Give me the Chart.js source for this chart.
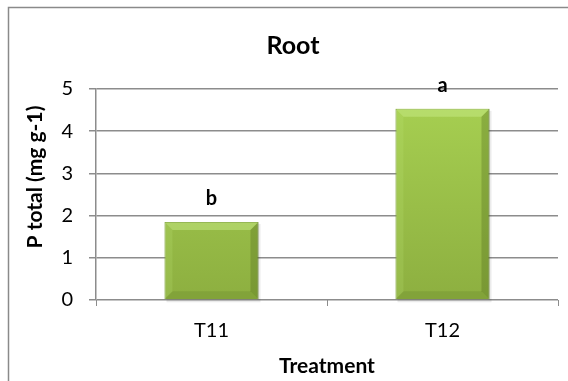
<!DOCTYPE html>
<html>
<head>
<meta charset="utf-8">
<script src="https://cdn.jsdelivr.net/npm/chart.js@4/dist/chart.umd.min.js"></script>
<style>
  html, body { margin: 0; padding: 0; background: #fff; }
  #wrap { width: 568px; height: 381px; position: relative; }
</style>
</head>
<body>
<div id="wrap"><canvas id="chart"></canvas></div>
<script>
var treatments = ['T11', 'T12'];
var pTotal = [1.85, 4.53];
var sigLetters = ['b', 'a'];
var yTicks = [0, 1, 2, 3, 4, 5];

var fontFamily = 'Lato, "Open Sans", sans-serif';
var gridColor = '#8c8c8c';

// frame round the whole chart, like the Excel chart area border
var framePlugin = {
    id: 'frame',
    beforeDraw: function(chart) {
        var ctx = chart.ctx;
        ctx.save();
        ctx.fillStyle = '#fff';
        ctx.fillRect(0, 0, chart.width, chart.height);
        ctx.strokeStyle = '#8a8a8a';
        ctx.lineWidth = 1.5;
        ctx.strokeRect(8.5, 7.5, chart.width + 20, chart.height + 20);
        ctx.restore();
    }
};

// bevel look on the bars and the letters above them
var bevelPlugin = {
    id: 'bevel',
    beforeDatasetsDraw: function(chart) {
        // soft shadow under the bars
        var ctx = chart.ctx;
        var meta = chart.getDatasetMeta(0);
        ctx.save();
        meta.data.forEach(function(bar) {
            var half = bar.width / 2;
            ctx.fillStyle = 'rgba(0,0,0,0.08)';
            ctx.fillRect(bar.x - half + 2, bar.y + 2, bar.width, bar.base - bar.y + 1);
        });
        ctx.restore();
    },
    afterDatasetsDraw: function(chart) {
        var ctx = chart.ctx;
        var meta = chart.getDatasetMeta(0);
        ctx.save();
        meta.data.forEach(function(bar, i) {
            var half = bar.width / 2;
            var l = bar.x - half, r = bar.x + half, t = bar.y, b = bar.base;
            var e = 8;
            ctx.fillStyle = 'rgba(205,240,140,0.45)';
            ctx.beginPath();
            ctx.moveTo(l, t); ctx.lineTo(r, t); ctx.lineTo(r - e, t + e); ctx.lineTo(l + e, t + e);
            ctx.closePath(); ctx.fill();
            ctx.fillStyle = 'rgba(190,230,120,0.2)';
            ctx.beginPath();
            ctx.moveTo(l, t); ctx.lineTo(l + e, t + e); ctx.lineTo(l + e, b - e); ctx.lineTo(l, b);
            ctx.closePath(); ctx.fill();
            ctx.fillStyle = 'rgba(70,95,20,0.28)';
            ctx.beginPath();
            ctx.moveTo(r, t); ctx.lineTo(r, b); ctx.lineTo(r - e, b - e); ctx.lineTo(r - e, t + e);
            ctx.closePath(); ctx.fill();
            ctx.fillStyle = 'rgba(70,95,20,0.15)';
            ctx.beginPath();
            ctx.moveTo(l, b); ctx.lineTo(r, b); ctx.lineTo(r - e, b - e); ctx.lineTo(l + e, b - e);
            ctx.closePath(); ctx.fill();

            ctx.fillStyle = '#000';
            ctx.font = 'bold 20px ' + fontFamily;
            ctx.textAlign = 'center';
            ctx.textBaseline = 'middle';
            ctx.fillText(sigLetters[i], bar.x, bar.y - 23);
        });
        ctx.restore();
    },
    afterDraw: function(chart) {
        // y axis title, Excel places it a bit above the middle
        var ctx = chart.ctx;
        ctx.save();
        ctx.translate(35, 177);
        ctx.rotate(-Math.PI / 2);
        ctx.fillStyle = '#000';
        ctx.font = 'bold 21px ' + fontFamily;
        ctx.textAlign = 'center';
        ctx.textBaseline = 'middle';
        ctx.fillText('P total (mg g-1)', 0, 0);
        ctx.restore();
    }
};

function barFill(context) {
    var chart = context.chart;
    var area = chart.chartArea;
    if (!area) return '#9bc34a';
    var el = context.element;
    var top = el && isFinite(el.y) ? el.y : area.top;
    var g = chart.ctx.createLinearGradient(0, top, 0, area.bottom);
    g.addColorStop(0, '#a8d152');
    g.addColorStop(1, '#8daf40');
    return g;
}

new Chart(document.getElementById('chart'), {
    type: 'bar',
    data: {
        labels: treatments,
        datasets: [{
            data: pTotal,
            backgroundColor: barFill,
            borderColor: '#6a8a28',
            borderWidth: 1,
            barPercentage: 0.407,
            categoryPercentage: 1
        }]
    },
    options: {
        responsive: true,
        maintainAspectRatio: false,
        animation: false,
        layout: { padding: { left: 28, right: 10, top: 8, bottom: 0 } },
        plugins: {
            legend: { display: false },
            tooltip: { enabled: false },
            title: {
                display: true,
                text: 'Root',
                color: '#000',
                font: { family: fontFamily, size: 25, weight: 'bold', lineHeight: 1.2 },
                padding: { top: 23, bottom: 28 }
            }
        },
        scales: {
            x: {
                grid: {
                    offset: true,
                    drawOnChartArea: false,
                    drawTicks: true,
                    tickLength: 6,
                    color: gridColor
                },
                border: { display: false },
                ticks: {
                    color: '#000',
                    padding: 13,
                    font: { family: fontFamily, size: 20 }
                },
                title: {
                    display: true,
                    text: 'Treatment',
                    color: '#000',
                    font: { family: fontFamily, size: 21, weight: 'bold', lineHeight: 1.2 },
                    padding: { top: 0, bottom: 2 }
                },
                afterFit: function(scale) { scale.height = 81; }
            },
            y: {
                min: 0,
                max: 5,
                afterBuildTicks: function(scale) {
                    scale.ticks = yTicks.map(function(v) { return { value: v }; });
                },
                grid: {
                    color: gridColor,
                    lineWidth: 1.5,
                    tickLength: 7
                },
                border: { display: true, color: gridColor, width: 1.5 },
                ticks: {
                    color: '#000',
                    padding: 16,
                    font: { family: fontFamily, size: 20 }
                },
                afterFit: function(scale) { scale.width = 68; }
            }
        }
    },
    plugins: [framePlugin, bevelPlugin]
});
</script>
</body>
</html>
